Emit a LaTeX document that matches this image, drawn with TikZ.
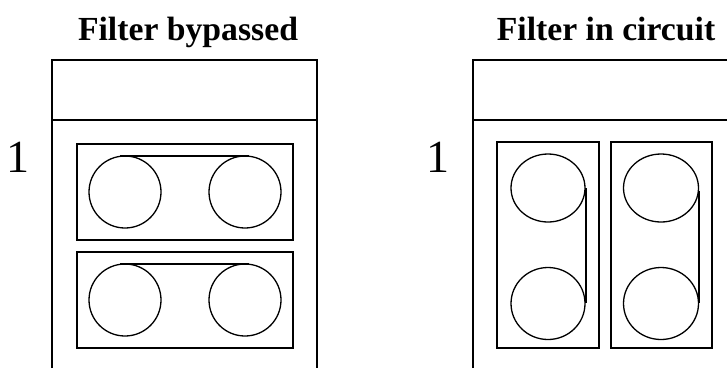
\documentclass[tikz,border=0pt]{standalone}
\usepackage{fontspec}
\setmainfont{Liberation Serif}
\usepackage{tikz}
\usetikzlibrary{shapes.geometric}
\tikzset{
  titleNode/.style={%
    anchor=base, inner sep=0pt, font=\fontsize{33.7}{36}\selectfont\bfseries,
  },
  numberNode/.style={%
    anchor=base, inner sep=0pt, font=\fontsize{46}{50}\selectfont,
  },
  panelNode/.style={%
    rectangle, draw, inner sep=0pt, outer sep=0pt,
  },
  pulleyNode/.style={%
    ellipse, draw, inner sep=0pt, outer sep=0pt,
  }
}

\begin{document}
\begin{tikzpicture}[x=1pt,y=-1pt,line width=1.3pt]
          \useasboundingbox (0,0) rectangle (727,368);

          \node[titleNode] (T1) at (188,40) {Filter bypassed};
          \node[titleNode] (T2) at (606,40) {Filter in circuit};
          \node[numberNode] (N1) at (17.5,172) {1};
          \node[numberNode] (N2) at (437.5,172) {1};

          % left unit
          \draw (52,368) -- (52,60) -- (317,60) -- (317,368);
          \draw (52,120) -- (317,120);
          \node[panelNode,minimum width=216pt,minimum height=96pt] (P1) at (185,192) {};
          \node[panelNode,minimum width=216pt,minimum height=96pt] (P2) at (185,300) {};
          \node[pulleyNode,minimum width=72pt,minimum height=72pt] (A) at (125,192) {};
          \node[pulleyNode,minimum width=72pt,minimum height=72pt] (B) at (245,192) {};
          \node[pulleyNode,minimum width=72pt,minimum height=72pt] (C) at (125,300) {};
          \node[pulleyNode,minimum width=72pt,minimum height=72pt] (D) at (245,300) {};

          \draw
          ([xshift=-5pt]A.north) -- ([xshift=4pt]B.north)
          ([xshift=-5pt]C.north) -- ([xshift=4pt]D.north)
          ;

          % right unit
          \draw (473,368) -- (473,60) -- (727,60);
          \draw (473,120) -- (727,120);
          \node[panelNode,minimum width=102pt,minimum height=206pt] (P3) at (548,245) {};
          \node[panelNode,minimum width=101pt,minimum height=206pt] (P4) at (661.5,245) {};
          \node[pulleyNode,minimum width=74pt,minimum height=68pt] (E) at (548,188) {};
          \node[pulleyNode,minimum width=74pt,minimum height=72pt] (F) at (548,303.5) {};
          \node[pulleyNode,minimum width=75pt,minimum height=68pt] (G) at (661,188) {};
          \node[pulleyNode,minimum width=75pt,minimum height=72pt] (H) at (661,303.5) {};

          \draw
          ([xshift=1pt]E.east) -- ([xshift=1pt,yshift=1pt]F.east)
          ([xshift=.5pt,yshift=-3pt]G.east) -- ([xshift=.5pt,yshift=1pt]H.east)
          ;
        \end{tikzpicture}
\end{document}
